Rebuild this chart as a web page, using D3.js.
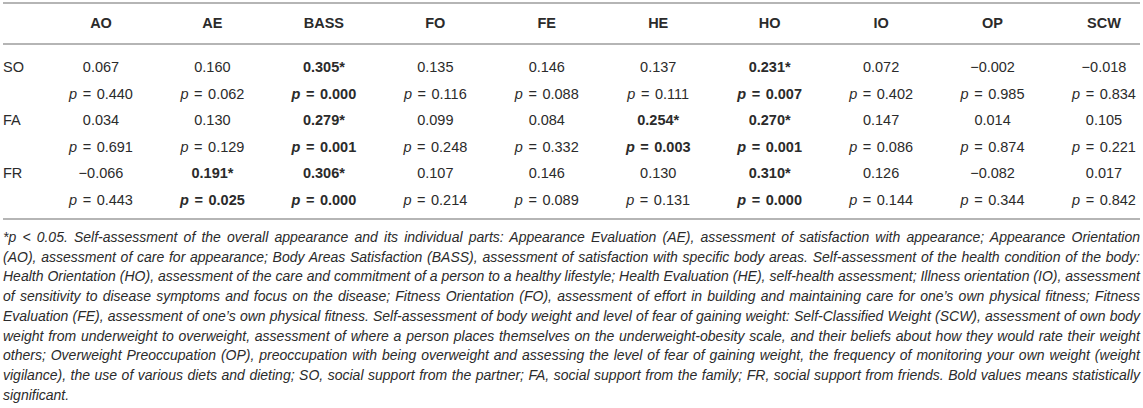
<!DOCTYPE html>
<html>
<head>
<meta charset="utf-8">
<script src="https://cdn.jsdelivr.net/npm/d3@7"></script>
<style>
  body { margin: 0; background: #fff; }
  text { font-family: "Liberation Sans", Arial, Helvetica, sans-serif; fill: #2b2b2b; }
</style>
</head>
<body>
<div id="chart"></div>
<script>
const width = 1143
const height = 408

const columns = ['AO', 'AE', 'BASS', 'FO', 'FE', 'HE', 'HO', 'IO', 'OP', 'SCW']
const rows = ['SO', 'FA', 'FR']

// correlation coefficients, one array per row
const rSO = [0.067, 0.160, 0.305, 0.135, 0.146, 0.137, 0.231, 0.072, -0.002, -0.018]
const rFA = [0.034, 0.130, 0.279, 0.099, 0.084, 0.254, 0.270, 0.147, 0.014, 0.105]
const rFR = [-0.066, 0.191, 0.306, 0.107, 0.146, 0.130, 0.310, 0.126, -0.082, 0.017]

// p values
const pSO = [0.440, 0.062, 0.000, 0.116, 0.088, 0.111, 0.007, 0.402, 0.985, 0.834]
const pFA = [0.691, 0.129, 0.001, 0.248, 0.332, 0.003, 0.001, 0.086, 0.874, 0.221]
const pFR = [0.443, 0.025, 0.000, 0.214, 0.089, 0.131, 0.000, 0.144, 0.344, 0.842]

const footnoteLines = [
  '*p < 0.05. Self-assessment of the overall appearance and its individual parts: Appearance Evaluation (AE), assessment of satisfaction with appearance; Appearance Orientation',
  '(AO), assessment of care for appearance; Body Areas Satisfaction (BASS), assessment of satisfaction with specific body areas. Self-assessment of the health condition of the body:',
  'Health Orientation (HO), assessment of the care and commitment of a person to a healthy lifestyle; Health Evaluation (HE), self-health assessment; Illness orientation (IO), assessment',
  'of sensitivity to disease symptoms and focus on the disease; Fitness Orientation (FO), assessment of effort in building and maintaining care for one\u2019s own physical fitness; Fitness',
  'Evaluation (FE), assessment of one\u2019s own physical fitness. Self-assessment of body weight and level of fear of gaining weight: Self-Classified Weight (SCW), assessment of own body',
  'weight from underweight to overweight, assessment of where a person places themselves on the underweight-obesity scale, and their beliefs about how they would rate their weight',
  'others; Overweight Preoccupation (OP), preoccupation with being overweight and assessing the level of fear of gaining weight, the frequency of monitoring your own weight (weight',
  'vigilance), the use of various diets and dieting; SO, social support from the partner; FA, social support from the family; FR, social support from friends. Bold values means statistically',
  'significant.',
]

const rValues = [rSO, rFA, rFR]
const pValues = [pSO, pFA, pFR]
const alpha = 0.05

const left = 3
const right = 1140
const headerY = 28
const rowStart = 72
const rowStep = 26.6
const ruleYs = [3, 44, 219]
const noteStart = 242
const noteStep = 19.7

const fmt = d3.format('.3f')

const svg = d3.select('#chart').append('svg').attr('width', width).attr('height', height)

const x = d3.scalePoint().domain(columns).range([101, 1104])

// horizontal rules
svg.append('g').attr('class', 'rules')
  .selectAll('line')
  .data(ruleYs)
  .enter()
  .append('line')
  .attr('x1', left)
  .attr('x2', right)
  .attr('y1', d => d)
  .attr('y2', d => d)
  .attr('stroke', '#b5b5b5')
  .attr('stroke-width', 2)

// header
svg.append('g').attr('class', 'header')
  .selectAll('text')
  .data(columns)
  .enter()
  .append('text')
  .attr('x', d => x(d))
  .attr('y', headerY)
  .attr('text-anchor', 'middle')
  .attr('font-size', 14.5)
  .attr('font-weight', 'bold')
  .text(d => d)

const body = svg.append('g').attr('class', 'body')

rows.forEach((row, i) => {
  const yR = rowStart + rowStep * 2 * i
  const yP = yR + rowStep

  body.append('text')
    .attr('x', left)
    .attr('y', yR)
    .attr('font-size', 14.5)
    .text(row)

  const cells = columns.map((col, j) => ({
    col: col,
    r: rValues[i][j],
    p: pValues[i][j],
    sig: pValues[i][j] < alpha,
  }))

  body.append('g')
    .selectAll('text')
    .data(cells)
    .enter()
    .append('text')
    .attr('x', d => x(d.col))
    .attr('y', yR)
    .attr('text-anchor', 'middle')
    .attr('font-size', 14.5)
    .attr('font-weight', d => d.sig ? 'bold' : 'normal')
    .text(d => fmt(d.r) + (d.sig ? '*' : ''))

  const pText = body.append('g')
    .selectAll('text')
    .data(cells)
    .enter()
    .append('text')
    .attr('x', d => x(d.col))
    .attr('y', yP)
    .attr('text-anchor', 'middle')
    .attr('font-size', 14.5)
    .attr('word-spacing', 1.5)
    .attr('font-weight', d => d.sig ? 'bold' : 'normal')
  pText.append('tspan').attr('font-style', 'italic').text('p')
  pText.append('tspan').text(d => ' = ' + fmt(d.p))
})

// footnote, justified line by line
const notes = svg.append('g').attr('class', 'footnote')
  .selectAll('text')
  .data(footnoteLines)
  .enter()
  .append('text')
  .attr('x', left)
  .attr('y', (d, i) => noteStart + noteStep * i)
  .attr('font-size', 14)
  .attr('font-style', 'italic')
  .text(d => d)

notes.each(function (d, i) {
  if (i === footnoteLines.length - 1) return
  const natural = this.getComputedTextLength()
  const gaps = d.split(' ').length - 1
  const extra = (right - left - natural) / gaps
  d3.select(this).attr('word-spacing', extra)
})
</script>
</body>
</html>
